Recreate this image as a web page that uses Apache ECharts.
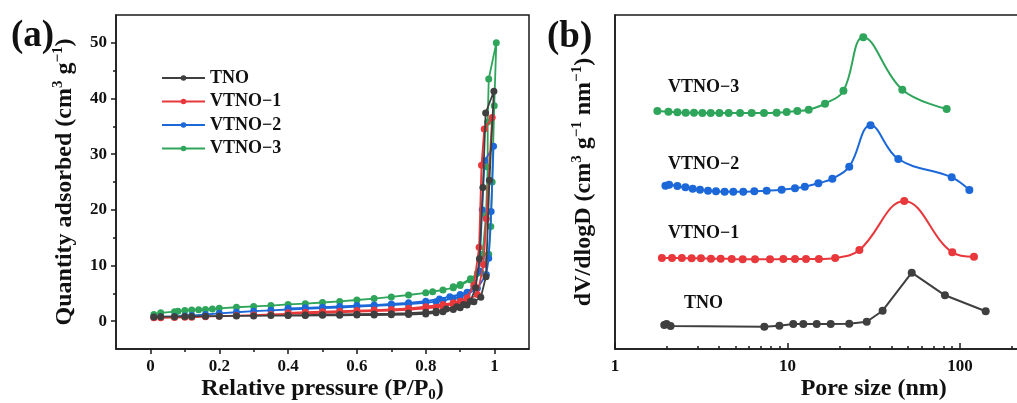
<!DOCTYPE html>
<html><head><meta charset="utf-8">
<script src="https://cdn.jsdelivr.net/npm/echarts@6/dist/echarts.min.js"></script>
<style>html,body{margin:0;padding:0;background:#fff}#c{width:1017px;height:403px}</style>
</head><body><div id="c"></div>
<script>
// ---------- Panel (a): N2 isotherms [P/P0, quantity] (adsorption then desorption) ----------
const isoTNO = [[0.01,0.75],[0.03,0.8],[0.07,0.8],[0.1,0.85],[0.12,0.85],[0.16,0.9],[0.2,0.9],[0.25,0.95],[0.3,0.95],[0.35,1.0],[0.4,1.0],[0.45,1.0],[0.5,1.05],[0.55,1.05],[0.6,1.1],[0.65,1.1],[0.7,1.15],[0.75,1.2],[0.8,1.3],[0.83,1.5],[0.85,1.7],[0.88,2.1],[0.9,2.4],[0.92,2.9],[0.94,3.5],[0.96,4.3],[0.975,8.0],[0.985,25.3],[0.998,41.3],
  [0.974,37.4],[0.966,24],[0.956,11.2],[0.945,6.0],[0.93,3.6],[0.91,3.0],[0.89,2.6],[0.86,2.2],[0.83,1.8],[0.8,1.6],[0.75,1.45],[0.7,1.35],[0.65,1.3],[0.6,1.25],[0.55,1.2],[0.5,1.15],[0.45,1.1],[0.4,1.05]];
const isoV1 = [[0.01,0.6],[0.03,0.6],[0.07,0.65],[0.1,0.7],[0.12,0.7],[0.16,0.8],[0.2,0.9],[0.25,1.0],[0.3,1.1],[0.35,1.2],[0.4,1.3],[0.45,1.4],[0.5,1.5],[0.55,1.6],[0.6,1.7],[0.65,1.8],[0.7,1.9],[0.75,2.05],[0.8,2.3],[0.83,2.5],[0.85,2.7],[0.88,3.0],[0.9,3.3],[0.92,3.7],[0.95,4.8],[0.968,10.2],[0.976,18.4],[0.993,36.6],
  [0.970,34.5],[0.962,28],[0.955,13.3],[0.94,6.5],[0.92,4.2],[0.9,3.6],[0.88,3.3],[0.85,3.0],[0.8,2.6],[0.75,2.3],[0.7,2.1],[0.65,2.0],[0.6,1.9],[0.55,1.8],[0.5,1.7],[0.45,1.6],[0.4,1.5]];
const isoV2 = [[0.01,0.7],[0.03,0.75],[0.07,0.85],[0.1,0.95],[0.12,1.0],[0.16,1.2],[0.2,1.4],[0.25,1.6],[0.3,1.8],[0.35,1.95],[0.4,2.1],[0.45,2.2],[0.5,2.35],[0.55,2.45],[0.6,2.6],[0.65,2.75],[0.7,2.9],[0.75,3.05],[0.8,3.3],[0.83,3.5],[0.85,3.7],[0.88,4.1],[0.9,4.4],[0.92,4.8],[0.95,5.9],[0.976,8.4],[0.983,11.3],[0.99,19.7],[0.997,31.4],
  [0.971,28.8],[0.964,20],[0.955,9],[0.94,6.2],[0.92,5.2],[0.9,4.8],[0.87,4.4],[0.84,4.0],[0.8,3.6],[0.75,3.3],[0.7,3.1],[0.65,2.9],[0.6,2.8],[0.55,2.65],[0.5,2.5],[0.45,2.4],[0.4,2.3]];
const isoV3 = [[0.01,1.2],[0.03,1.5],[0.07,1.7],[0.08,1.8],[0.1,1.9],[0.12,2.0],[0.14,2.05],[0.16,2.1],[0.18,2.2],[0.2,2.3],[0.25,2.5],[0.3,2.65],[0.35,2.8],[0.4,3.0],[0.45,3.15],[0.5,3.35],[0.55,3.55],[0.6,3.8],[0.65,4.05],[0.7,4.35],[0.75,4.7],[0.8,5.1],[0.82,5.3],[0.85,5.6],[0.88,6.0],[0.9,6.4],[0.93,7.4],[0.96,8.8],[0.983,12.0],[0.989,17.0],[0.993,25],[0.999,38.7],[1.005,50],
  [0.983,43.5],[0.980,35.8],[0.980,27.7],[0.975,19],[0.965,12],[0.95,8.6],[0.93,7.6],[0.9,6.6],[0.88,6.2]];

// ---------- Panel (b): pore size distribution [pore size nm, dV/dlogD (arb., offset)] ----------
const psdTNO = [[1.93,24],[1.99,25],[2.10,23],[7.34,22.3],[8.97,23.3],[10.8,25],[12.35,25],[14.76,25],[17.8,25],[22.8,25.3],[28.8,27.3],[35.6,38.3],[52.5,76.3],[81.8,53.7],[140.9,37.7]];
const psdV1 = [[1.87,91],[2.14,91],[2.44,91],[2.78,90.7],[3.15,90.7],[3.60,90.3],[4.10,90.3],[4.75,90],[5.50,89.7],[6.48,89.7],[7.92,89.7],[9.46,90],[11.05,90],[12.8,90],[15.2,90],[18.9,91],[26.1,99],[47.5,148],[90.2,96.7],[120.5,92.3]];
const psdV2 = [[1.96,163.3],[2.06,164.3],[2.30,163],[2.56,161.7],[2.82,160.3],[3.11,159.3],[3.46,158.3],[3.85,157.7],[4.32,157.3],[4.85,157.3],[5.54,157.3],[6.42,157.7],[7.57,158.3],[9.25,159.3],[11.05,160.7],[12.6,162.3],[15.1,165.7],[18.2,170.3],[22.8,182.3],[30.3,223.7],[43.9,190],[89.5,171.7],[113.3,159]];
const psdV3 = [[1.76,238],[2.04,237.3],[2.30,236.7],[2.57,236.3],[2.87,236.3],[3.21,236],[3.59,236],[4.03,236],[4.56,236],[5.31,236],[6.20,236],[7.31,236],[8.65,236.3],[9.89,237],[11.40,238],[13.27,239.3],[16.5,245.3],[21.1,258.3],[27.5,311.7],[46.3,259.3],[83.7,240]];

const seriesNames = ['TNO','VTNO\u22121','VTNO\u22122','VTNO\u22123'];
const colors = ['#3f3f3f','#e8383c','#1c68d8','#2fa55b'];
const xTicksA = [0,0.2,0.4,0.6,0.8,1];
const xMinorA = [0.1,0.3,0.5,0.7,0.9];
const yTicksA = [0,10,20,30,40,50];
const yMinorA = [5,15,25,35,45];

const FF = '"Liberation Serif","Times New Roman",serif';
const axisCol = '#1a1a1a';
const lbl = {fontFamily:FF,fontWeight:'bold',fontSize:17,color:'#111'};
const nameStyle = {fontFamily:FF,fontWeight:'bold',fontSize:24,color:'#111',lineHeight:28,
  rich:{sup:{fontFamily:FF,fontWeight:'bold',fontSize:15,color:'#111',verticalAlign:'top',lineHeight:15},
        sub:{fontFamily:FF,fontWeight:'bold',fontSize:15,color:'#111',verticalAlign:'bottom',lineHeight:13}}};

const chart = echarts.init(document.getElementById('c'), null, {renderer:'canvas'});
const isoData = [isoTNO, isoV1, isoV2, isoV3];
const psdData = [psdTNO, psdV1, psdV2, psdV3];

const series = [];
isoData.forEach((d,i)=>series.push({name:seriesNames[i],type:'line',xAxisIndex:0,yAxisIndex:0,data:d,
  symbol:'circle',symbolSize:7,showSymbol:true,color:colors[i],lineStyle:{width:1.8,color:colors[i]},itemStyle:{color:colors[i]},
  animation:false,z:10-i}));
psdData.forEach((d,i)=>series.push({name:seriesNames[i]+' b',type:'line',xAxisIndex:2,yAxisIndex:2,data:d,
  symbol:'circle',symbolSize:8,smooth:i===0?false:0.4,color:colors[i],lineStyle:{width:2,color:colors[i]},itemStyle:{color:colors[i]},
  animation:false}));

const option = {
  backgroundColor:'#fff',
  animation:false,
  grid:[
    {left:116,top:15,width:413,height:334,show:true,borderColor:axisCol,borderWidth:1.5,backgroundColor:'transparent',outerBoundsMode:'none',containLabel:false},
    {left:615,top:15,width:517.5,height:334,show:true,borderColor:axisCol,borderWidth:1.5,backgroundColor:'transparent',outerBoundsMode:'none',containLabel:false}
  ],
  legend:{data:seriesNames,orient:'vertical',left:156,top:64,itemWidth:43,itemHeight:7,itemGap:5.5,
    textStyle:{fontFamily:FF,fontWeight:'bold',fontSize:18,color:'#111',lineHeight:18}},
  xAxis:[
    {gridIndex:0,type:'value',position:'bottom',min:-0.1,max:1.1,
     axisLine:{onZero:false,lineStyle:{color:axisCol,width:1.5}},
     axisTick:{customValues:xTicksA,length:5,lineStyle:{color:axisCol,width:1.5}},
     axisLabel:{customValues:xTicksA,margin:9,...lbl},
     splitLine:{show:false},
     name:'Relative pressure (P/P{sub|0})',nameLocation:'middle',nameGap:26,nameMoveOverlap:false,nameTextStyle:nameStyle},
    {gridIndex:0,type:'value',position:'bottom',min:-0.1,max:1.1,
     axisLine:{show:false,onZero:false},
     axisTick:{customValues:xMinorA,length:3,lineStyle:{color:axisCol,width:1.5}},
     axisLabel:{show:false},splitLine:{show:false}},
    {gridIndex:1,type:'log',position:'bottom',logBase:10,min:1,max:1000,
     axisLine:{onZero:false,lineStyle:{color:axisCol,width:1.5}},
     axisTick:{inside:true,length:6,lineStyle:{color:axisCol,width:1.5}},
     minorTick:{show:true,splitNumber:9,length:3,lineStyle:{color:axisCol,width:1.5}},
     axisLabel:{margin:9,...lbl},
     splitLine:{show:false},minorSplitLine:{show:false},
     name:'Pore size (nm)',nameLocation:'middle',nameGap:26,nameMoveOverlap:false,nameTextStyle:nameStyle}
  ],
  yAxis:[
    {gridIndex:0,type:'value',position:'left',min:-5,max:55,
     axisLine:{onZero:false,lineStyle:{color:axisCol,width:1.5}},
     axisTick:{customValues:yTicksA,length:5,lineStyle:{color:axisCol,width:1.5}},
     axisLabel:{customValues:yTicksA,margin:9,...lbl},
     splitLine:{show:false},
     name:'Quantity adsorbed (cm{sup|3} g{sup|\u22121})',nameLocation:'middle',nameGap:37,nameMoveOverlap:false,nameTextStyle:nameStyle},
    {gridIndex:0,type:'value',position:'left',min:-5,max:55,
     axisLine:{show:false,onZero:false},
     axisTick:{customValues:yMinorA,length:3,lineStyle:{color:axisCol,width:1.5}},
     axisLabel:{show:false},splitLine:{show:false}},
    {gridIndex:1,type:'value',position:'left',min:0,max:334,
     axisLine:{onZero:false,lineStyle:{color:axisCol,width:1.5}},
     axisTick:{show:false},axisLabel:{show:false},splitLine:{show:false},
     name:'dV/dlogD (cm{sup|3} g{sup|\u22121} nm{sup|\u22121})',nameLocation:'middle',nameGap:17,nameMoveOverlap:false,nameTextStyle:nameStyle}
  ],
  graphic:[
    {type:'text',left:11,top:18,style:{text:'(a)',font:'bold 37px '+FF,fill:'#111'}},
    {type:'text',left:547,top:19,style:{text:'(b)',font:'bold 37px '+FF,fill:'#111'}},
    {type:'text',left:668,top:78,style:{text:'VTNO\u22123',font:'bold 18px '+FF,fill:'#111'}},
    {type:'text',left:668,top:155,style:{text:'VTNO\u22122',font:'bold 18px '+FF,fill:'#111'}},
    {type:'text',left:668,top:224,style:{text:'VTNO\u22121',font:'bold 18px '+FF,fill:'#111'}},
    {type:'text',left:684,top:294,style:{text:'TNO',font:'bold 18px '+FF,fill:'#111'}}
  ],
  series:series
};
chart.setOption(option);
</script></body></html>
